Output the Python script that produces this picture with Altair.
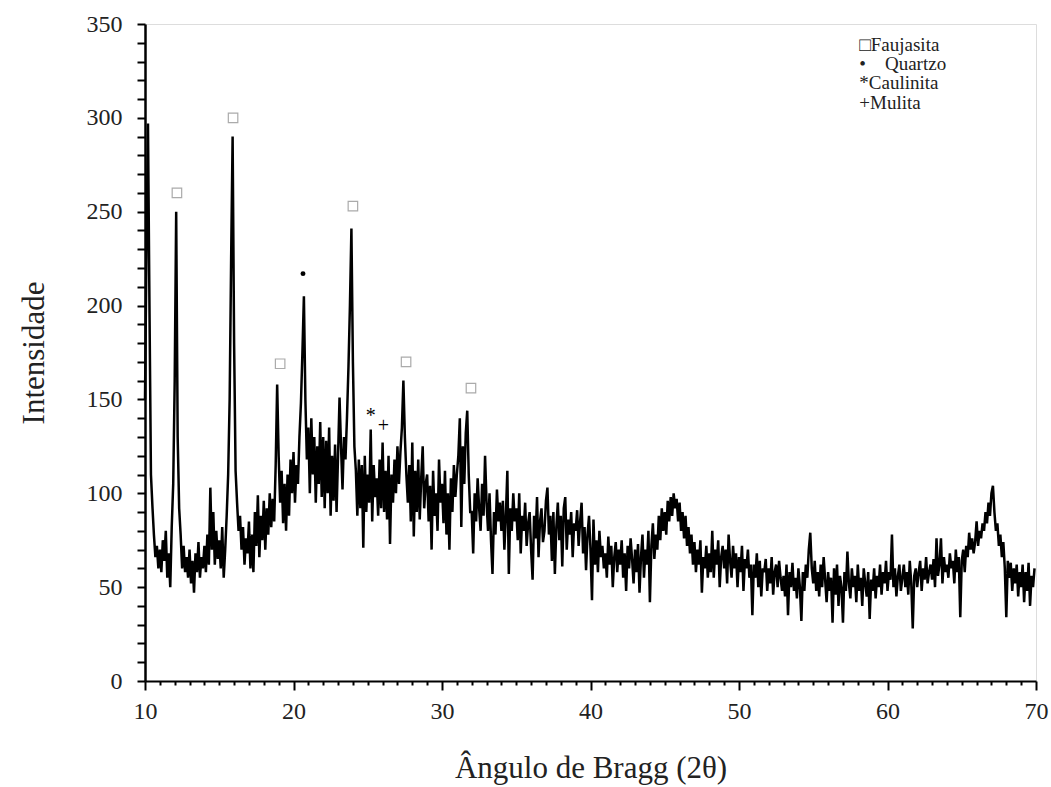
import altair as alt
import pandas as pd

# 2-theta grid start (deg) and step, one row of 10 readings per degree
two_theta_start = 10.0
two_theta_step = 0.1

intensity_rows = [
    [150, 230, 297, 200, 110, 93, 78, 66, 72, 60],      # 10
    [70, 58, 75, 64, 80, 55, 68, 50, 82, 105],          # 11
    [160, 250, 130, 92, 78, 60, 72, 58, 66, 55],        # 12
    [70, 52, 64, 47, 68, 58, 74, 55, 66, 60],           # 13
    [72, 58, 78, 62, 103, 70, 90, 62, 80, 65],          # 14
    [75, 60, 82, 55, 70, 88, 110, 150, 225, 290],       # 15
    [180, 112, 95, 80, 88, 70, 82, 62, 76, 68],         # 16
    [85, 60, 78, 58, 90, 72, 99, 66, 88, 75],           # 17
    [96, 70, 92, 78, 100, 82, 97, 85, 115, 158],        # 18
    [120, 95, 112, 84, 105, 80, 110, 88, 118, 100],     # 19
    [122, 95, 115, 105, 130, 148, 175, 205, 150, 118],  # 20
    [135, 100, 140, 110, 130, 95, 125, 105, 138, 98],   # 21
    [130, 92, 128, 100, 135, 88, 120, 96, 126, 90],     # 22
    [120, 151, 125, 102, 130, 118, 140, 167, 200, 241], # 23
    [170, 125, 112, 88, 118, 92, 115, 71, 120, 90],     # 24
    [110, 95, 134, 85, 115, 98, 108, 88, 118, 92],      # 25
    [127, 90, 112, 86, 120, 73, 110, 95, 118, 100],     # 26
    [125, 105, 122, 135, 160, 130, 110, 95, 115, 85],   # 27
    [127, 77, 112, 90, 118, 86, 108, 125, 92, 105],     # 28
    [110, 85, 104, 70, 112, 88, 100, 80, 118, 95],      # 29
    [105, 84, 112, 78, 100, 70, 108, 90, 115, 98],      # 30
    [110, 120, 140, 82, 125, 105, 132, 144, 110, 90],   # 31
    [90, 68, 100, 85, 108, 92, 80, 105, 88, 120],       # 32
    [95, 80, 100, 75, 57, 90, 78, 102, 85, 95],         # 33
    [80, 96, 70, 88, 112, 57, 92, 80, 100, 85],         # 34
    [92, 75, 100, 68, 88, 80, 95, 72, 84, 90],          # 35
    [70, 54, 88, 76, 98, 66, 85, 92, 74, 80],           # 36
    [96, 103, 78, 88, 64, 90, 57, 82, 95, 75],          # 37
    [88, 61, 92, 98, 70, 86, 78, 90, 66, 84],           # 38
    [80, 91, 72, 85, 95, 68, 82, 59, 78, 88],           # 39
    [70, 43, 86, 62, 75, 58, 80, 66, 72, 60],           # 40
    [68, 55, 77, 62, 72, 50, 66, 74, 58, 70],           # 41
    [62, 75, 55, 68, 48, 72, 60, 76, 65, 52],           # 42
    [70, 58, 73, 47, 66, 78, 55, 70, 62, 80],           # 43
    [42, 72, 84, 65, 78, 70, 88, 75, 92, 80],           # 44
    [90, 78, 96, 85, 98, 88, 100, 92, 97, 85],          # 45
    [95, 80, 90, 76, 88, 72, 82, 68, 78, 62],           # 46
    [74, 58, 70, 62, 75, 47, 66, 60, 72, 55],           # 47
    [68, 58, 80, 55, 70, 62, 75, 50, 66, 72],           # 48
    [60, 70, 52, 78, 64, 55, 72, 60, 68, 50],           # 49
    [66, 58, 72, 48, 65, 60, 70, 55, 62, 35],           # 50
    [62, 55, 68, 50, 64, 45, 60, 58, 65, 48],           # 51
    [60, 52, 66, 46, 58, 62, 50, 64, 55, 48],           # 52
    [56, 45, 62, 35, 58, 50, 63, 48, 55, 44],           # 53
    [60, 50, 32, 58, 48, 62, 55, 70, 79, 60],           # 54
    [52, 64, 48, 58, 45, 62, 50, 66, 54, 42],           # 55
    [58, 48, 55, 31, 60, 46, 62, 40, 56, 50],           # 56
    [31, 58, 48, 69, 52, 44, 60, 50, 56, 42],           # 57
    [62, 48, 55, 40, 60, 52, 45, 58, 33, 54],           # 58
    [48, 60, 44, 56, 50, 62, 46, 58, 52, 64],           # 59
    [48, 58, 54, 78, 50, 60, 45, 56, 62, 48],           # 60
    [55, 62, 50, 58, 46, 64, 52, 28, 56, 60],           # 61
    [50, 58, 64, 48, 60, 54, 66, 52, 58, 62],           # 62
    [54, 65, 50, 76, 56, 62, 76, 52, 66, 58],           # 63
    [62, 55, 68, 60, 64, 52, 70, 58, 66, 34],           # 64
    [64, 70, 58, 72, 66, 79, 70, 76, 68, 74],           # 65
    [85, 72, 80, 76, 84, 80, 90, 84, 95, 88],           # 66
    [100, 104, 90, 80, 84, 72, 78, 66, 74, 60],         # 67
    [34, 64, 55, 63, 48, 60, 52, 62, 45, 58],           # 68
    [50, 62, 42, 58, 48, 63, 40, 56, 50, 60],           # 69
]

# Peak markers (phase symbols)
faujasita_x = [12.15, 15.93, 19.1, 24.0, 27.58, 31.95]
faujasita_y = [260, 300, 169, 253, 170, 156]
quartzo_x = [20.64]
quartzo_y = [217]
other_labels = ["*", "+"]
other_x = [25.2, 26.05]
other_y = [141, 136]

# Legend text lines
legend_lines = ["\u25a1Faujasita", "\u2022\u00a0\u00a0\u00a0\u00a0Quartzo", "*Caulinita", "+Mulita"]
legend_x = [58.1, 58.1, 58.1, 58.1]
legend_y = [339, 328.7, 318.5, 308]

x_tick_values = list(range(10, 71))
y_tick_values = list(range(0, 351, 10))
x_title = "Ângulo de Bragg (2θ)"
y_title = "Intensidade"

values = [v for row in intensity_rows for v in row]
angles = [round(two_theta_start + i * two_theta_step, 2) for i in range(len(values))]
df = pd.DataFrame({"angle": angles, "intensity": values})

xscale = alt.Scale(domain=[10, 70], nice=False, zero=False)
yscale = alt.Scale(domain=[0, 350], nice=False)
FONT = "Liberation Serif"

xaxis = alt.Axis(values=x_tick_values,
                 labelExpr="datum.value % 10 == 0 ? datum.label : ''",
                 labelOverlap=False,
                 tickSize={"condition": {"test": "datum.value % 10 === 0", "value": 9}, "value": 4},
                 tickWidth=2, tickColor="black", domainColor="black", domainWidth=2,
                 grid=False, labelFont=FONT, labelFontSize=24, labelColor="#222",
                 labelPadding=9, titleFont=FONT, titleFontSize=31, titleFontWeight="normal",
                 titleColor="#222", titlePadding=30, labelFlush=False)
yaxis = alt.Axis(values=y_tick_values,
                 labelExpr="datum.value % 50 == 0 ? datum.label : ''",
                 labelOverlap=False,
                 tickSize=8, tickWidth=2, tickColor="black", domainColor="black",
                 domainWidth=2.5, grid=False, labelFont=FONT, labelFontSize=24,
                 labelColor="#222", labelPadding=15, titleFont=FONT, titleFontSize=31,
                 titleFontWeight="normal", titleColor="#222", titlePadding=36)


def X(field):
    return alt.X(field, scale=xscale, title=x_title, axis=xaxis)


def Y(field):
    return alt.Y(field, scale=yscale, title=y_title, axis=yaxis)


line = alt.Chart(df).mark_line(color="black", strokeWidth=2.5, strokeJoin="miter").encode(
    x=X("angle:Q"), y=Y("intensity:Q"))

fdf = pd.DataFrame({"angle": faujasita_x, "intensity": faujasita_y})
squares = alt.Chart(fdf).mark_point(shape="square", filled=False, color="#888", size=90, strokeWidth=1.2).encode(
    x=X("angle:Q"), y=Y("intensity:Q"))

qdf = pd.DataFrame({"angle": quartzo_x, "intensity": quartzo_y})
dots = alt.Chart(qdf).mark_point(shape="circle", filled=True, color="black", size=24, opacity=1).encode(
    x=X("angle:Q"), y=Y("intensity:Q"))

odf = pd.DataFrame({"angle": other_x, "intensity": other_y, "t": other_labels})
others = alt.Chart(odf).mark_text(font=FONT, fontSize=20, color="black", baseline="middle").encode(
    x=X("angle:Q"), y=Y("intensity:Q"), text="t:N")

ldf = pd.DataFrame({"angle": legend_x, "intensity": legend_y, "t": legend_lines})
legend = alt.Chart(ldf).mark_text(font=FONT, fontSize=19, color="#222", align="left", baseline="middle").encode(
    x=X("angle:Q"), y=Y("intensity:Q"), text="t:N")

chart = alt.layer(line, squares, dots, others, legend).properties(
    width=891, height=657,
    autosize=alt.AutoSizeParams(type="none"),
    padding={"left": 145, "top": 24, "right": 15, "bottom": 106},
).configure_view(stroke="#ececec").configure(background="white")

chart.save("out.html", embed_options={"renderer": "svg", "actions": False})
